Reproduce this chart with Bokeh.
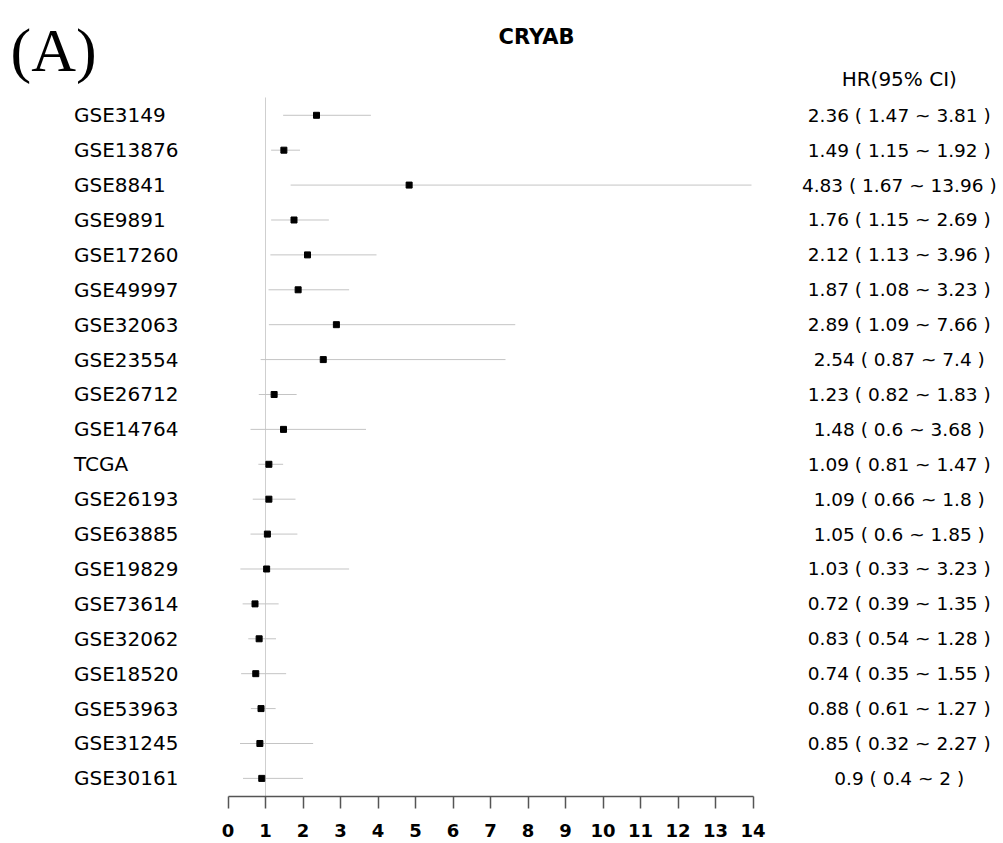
from bokeh.plotting import figure
from bokeh.models import ColumnDataSource, Range1d, LinearAxis, FixedTicker
from bokeh.core.properties import value
from bokeh.embed import file_html
from bokeh.resources import INLINE

# ---- data ----
studies = ["GSE3149", "GSE13876", "GSE8841", "GSE9891", "GSE17260", "GSE49997",
           "GSE32063", "GSE23554", "GSE26712", "GSE14764", "TCGA", "GSE26193",
           "GSE63885", "GSE19829", "GSE73614", "GSE32062", "GSE18520", "GSE53963",
           "GSE31245", "GSE30161"]
hr = [2.36, 1.49, 4.83, 1.76, 2.12, 1.87, 2.89, 2.54, 1.23, 1.48,
      1.09, 1.09, 1.05, 1.03, 0.72, 0.83, 0.74, 0.88, 0.85, 0.9]
lower = [1.47, 1.15, 1.67, 1.15, 1.13, 1.08, 1.09, 0.87, 0.82, 0.6,
         0.81, 0.66, 0.6, 0.33, 0.39, 0.54, 0.35, 0.61, 0.32, 0.4]
upper = [3.81, 1.92, 13.96, 2.69, 3.96, 3.23, 7.66, 7.4, 1.83, 3.68,
         1.47, 1.8, 1.85, 3.23, 1.35, 1.28, 1.55, 1.27, 2.27, 2]
ticks = list(range(0, 15))
title_text = "CRYAB"
header_text = "HR(95% CI)"
panel_text = "(A)"

# ---- layout helpers ----
rows = list(range(len(studies)))
hr_text = [f"{h:g} ( {l:g} ~ {u:g} )" for h, l, u in zip(hr, lower, upper)]

FONT = value("DejaVu Sans")

p = figure(width=1000, height=839, output_backend="svg", toolbar_location=None,
           x_range=Range1d(-6.067, 20.6), y_range=Range1d(19.519, -3.289),
           x_axis_location=None, y_axis_location=None,
           min_border_left=0, min_border_right=0, min_border_top=0, min_border_bottom=0)
p.outline_line_color = None
p.grid.visible = False
p.background_fill_color = "white"
p.border_fill_color = "white"

src = ColumnDataSource(dict(study=studies, hr=hr, lo=lower, hi=upper, y=rows, txt=hr_text,
                            xl=[-4.107] * len(rows), xr=[17.9] * len(rows)))

# reference line at HR = 1
p.segment(x0=[1], y0=[-0.51], x1=[1], y1=[19.6], line_color="#cfcfcf", line_width=1)

# confidence intervals
p.segment(x0="lo", y0="y", x1="hi", y1="y", source=src, line_color="#c4c4c4", line_width=1)

# point estimates
p.scatter(x="hr", y="y", source=src, marker="square", size=6, fill_color="black", line_color="black")

# study labels
p.text(x="xl", y="y", text="study", source=src, text_font=FONT, text_font_size="20px",
       text_baseline="middle", text_align="left", text_color="black")

# HR text
p.text(x="xr", y="y", text="txt", source=src, text_font=FONT, text_font_size="18.5px",
       text_baseline="middle", text_align="center", text_color="black")

# header
p.text(x=[17.9], y=[-1.026], text=[header_text], text_font=FONT, text_font_size="20px",
       text_baseline="middle", text_align="center", text_color="black")

# title
p.text(x=[8.227], y=[-2.229], text=[title_text], text_font=FONT, text_font_size="21px",
       text_font_style="bold", text_baseline="middle", text_align="center", text_color="black")

# panel label
p.text(x=[-5.8], y=[-1.857], text=[panel_text], text_font=value("Liberation Serif"),
       text_font_size="62px", text_baseline="alphabetic", text_align="left", text_color="black")

# x axis
ax = LinearAxis(bounds=(0, 14), ticker=FixedTicker(ticks=ticks))
ax.axis_line_color = "#555555"
ax.axis_line_width = 1.5
ax.major_tick_line_color = "#555555"
ax.major_tick_line_width = 1.5
ax.major_tick_out = 12
ax.major_tick_in = 0
ax.minor_tick_line_color = None
ax.major_label_standoff = 15
ax.major_label_text_font = "DejaVu Sans"
ax.major_label_text_font_style = "bold"
ax.major_label_text_font_size = "18px"
ax.major_label_text_color = "black"
p.add_layout(ax, "below")

open("out.html", "w").write(file_html(p, INLINE))
